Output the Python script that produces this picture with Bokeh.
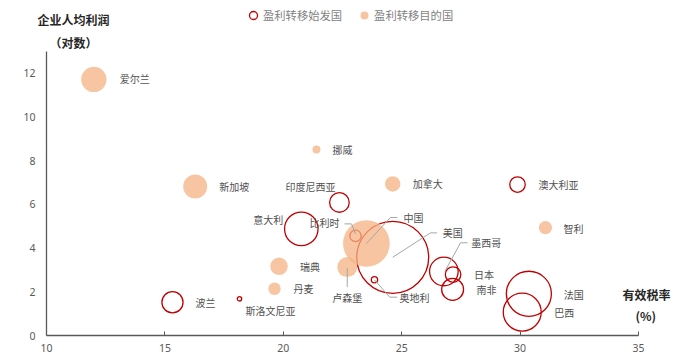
import math
from bokeh.plotting import figure
from bokeh.models import (ColumnDataSource, Range1d, Label, Legend, LegendItem,
                          FixedTicker, LinearAxis)
from bokeh.embed import file_html
from bokeh.resources import INLINE
from bokeh.core.properties import value

# ---------------- data ----------------
origin_names = ["印度尼西亚", "澳大利亚", "意大利", "比利时", "美国", "墨西哥", "日本",
                "南非", "奥地利", "法国", "巴西", "波兰", "斯洛文尼亚"]
origin_tax = [22.37, 29.89, 20.76, 23.05, 24.62, 26.78, 27.17, 27.15, 23.85, 30.37, 30.09, 15.32, 18.15]
origin_profit = [6.09, 6.91, 4.88, 4.56, 3.58, 2.93, 2.79, 2.11, 2.55, 1.91, 1.07, 1.52, 1.68]
origin_weight = [24, 15, 70, 8, 324, 51, 15, 30, 2.5, 127, 90, 28, 1.2]

dest_names = ["爱尔兰", "挪威", "新加坡", "加拿大", "智利", "瑞典", "丹麦", "卢森堡", "中国"]
dest_tax = [12.0, 21.40, 16.28, 24.62, 31.07, 19.82, 19.63, 22.70, 23.51]
dest_profit = [11.72, 8.51, 6.82, 6.94, 4.94, 3.17, 2.14, 3.13, 4.21]
dest_weight = [40, 4, 36, 15, 11, 19, 9.6, 25, 136]

x_ticks = [10, 15, 20, 25, 30, 35]
y_ticks = [0, 2, 4, 6, 8, 10, 12]

legend_labels = ["盈利转移始发国", "盈利转移目的国"]
y_title = ["企业人均利润", "（对数）"]
x_title = ["有效税率", "(%)"]

# ---------------- layout / style ----------------
W, H = 700, 363
X0, X1, Y0, Y1 = 10, 35, 0, 13
PLOT_L, PLOT_R, PLOT_T, PLOT_B = 46, 638, 51, 335      # axis box in page pixels
PX_X = (PLOT_R - PLOT_L) / (X1 - X0)
PX_Y = (PLOT_B - PLOT_T) / (Y1 - Y0)

RED = "#C00000"
ORANGE = "#F4B183"
GRAY = "#595959"
LABEL_C = "#505050"
LEGEND_C = "#7F7F7F"
FONT = "Noto Sans CJK SC"

label_pos = {
    "印度尼西亚": (-4, -16, "right"), "澳大利亚": (21, 0, "left"), "意大利": (-18, -9, "right"),
    "比利时": (-16, -13.5, "right"), "美国": (50, -24.5, "left"), "墨西哥": (27.5, -29, "left"),
    "日本": (21, 0, "left"), "南非": (24, 0, "left"), "奥地利": (25, 17.5, "left"),
    "法国": (35, 1, "left"), "巴西": (32, 0, "left"), "波兰": (23, 0, "left"),
    "斯洛文尼亚": (6, 12, "left"),
    "爱尔兰": (26, -1, "left"), "挪威": (16, 0, "left"), "新加坡": (24, 0, "left"),
    "加拿大": (20, 0, "left"), "智利": (18, 1, "left"), "瑞典": (21, 0, "left"),
    "丹麦": (19, 0, "left"), "卢森堡": (0, 30, "center"), "中国": (37, -26, "left"),
}
leaders = {
    "比利时": [(0, -2), (-4, -12), (-11, -12)],
    "中国": [(0, 0), (24, -26), (31, -26)],
    "美国": [(0, 0), (37.7, -24.4), (44.4, -24.4)],
    "墨西哥": [(1, 0), (16.7, -28.7), (23.7, -28.7)],
    "奥地利": [(0, 0), (15.3, 17.4), (22.7, 17.4)],
    "卢森堡": [(0, 1), (0, 20)],
}

p = figure(width=W, height=H,
           x_range=Range1d(X0 - PLOT_L / PX_X, X1 + (W - PLOT_R) / PX_X),
           y_range=Range1d(Y0 - (H - PLOT_B) / PX_Y, Y1 + PLOT_T / PX_Y),
           x_axis_location=None, y_axis_location=None,
           output_backend="svg", toolbar_location=None,
           min_border=0)
p.grid.visible = False
p.outline_line_color = None
p.background_fill_color = "white"
p.border_fill_color = "white"

xaxis = LinearAxis(fixed_location=Y0, bounds=(X0, X1), ticker=FixedTicker(ticks=x_ticks))
yaxis = LinearAxis(fixed_location=X0, bounds=(Y0, Y1), ticker=FixedTicker(ticks=y_ticks))
for ax in (xaxis, yaxis):
    ax.axis_line_color = GRAY
    ax.axis_line_width = 1.3
    ax.major_tick_line_color = GRAY
    ax.minor_tick_line_color = None
    ax.major_label_text_color = GRAY
    ax.major_label_text_font = "Noto Sans"
    ax.major_label_text_font_size = "10.5px"
    ax.major_tick_out = 0
xaxis.major_tick_in = 4
xaxis.major_label_standoff = 8
yaxis.major_tick_in = 0
yaxis.major_label_standoff = 11
p.add_layout(xaxis, "below")
p.add_layout(yaxis, "left")

o_src = ColumnDataSource(dict(x=origin_tax, y=origin_profit,
                              size=[4 * math.sqrt(w) for w in origin_weight]))
d_src = ColumnDataSource(dict(x=dest_tax, y=dest_profit,
                              size=[4 * math.sqrt(w) for w in dest_weight]))

r_o = p.scatter("x", "y", size="size", source=o_src, marker="circle",
                fill_color=None, line_color=RED, line_width=1.3)
r_d = p.scatter("x", "y", size="size", source=d_src, marker="circle",
                fill_color=ORANGE, fill_alpha=0.75, line_color=None)

# leader lines
all_pts = {n: (x, y) for n, x, y in zip(origin_names, origin_tax, origin_profit)}
all_pts.update({n: (x, y) for n, x, y in zip(dest_names, dest_tax, dest_profit)})
xs, ys = [], []
for name, pts in leaders.items():
    cx, cy = all_pts[name]
    xs.append([cx + dx / PX_X for dx, dy in pts])
    ys.append([cy - dy / PX_Y for dx, dy in pts])
p.multi_line(xs, ys, line_color="#A6A6A6", line_width=1)

# labels
names = origin_names + dest_names
lab = dict(x=[], y=[], text=[], xo=[], yo=[], align=[])
for n in names:
    cx, cy = all_pts[n]
    dx, dy, al = label_pos[n]
    lab["x"].append(cx); lab["y"].append(cy); lab["text"].append(n)
    lab["xo"].append(dx); lab["yo"].append(dy); lab["align"].append(al)
p.text("x", "y", text="text", x_offset="xo", y_offset="yo", text_align="align",
       source=ColumnDataSource(lab), text_baseline="middle",
       text_font=value(FONT), text_font_size="10px", text_color=LABEL_C)

# legend
legend = Legend(items=[LegendItem(label=legend_labels[0], renderers=[r_o]),
                       LegendItem(label=legend_labels[1], renderers=[r_d])],
                orientation="horizontal", location=(243, H - 25),
                glyph_width=20, glyph_height=20, label_standoff=-3, spacing=12,
                padding=0, margin=0, border_line_color=None, background_fill_alpha=0,
                label_text_font=FONT, label_text_font_size="11.3px", label_text_color=LEGEND_C,
                label_height=20)
p.add_layout(legend)

# axis titles (screen units, from bottom-left of the figure)
def title(txt, x, y):
    p.add_layout(Label(x=x, y=y, x_units="screen", y_units="screen", text=txt,
                       text_font=FONT, text_font_size="12px", text_font_style="bold",
                       text_color="#262626", text_baseline="middle"))

title(y_title[0], 37, H - 19)
title(y_title[1], 49, H - 42)
title(x_title[0], 622, H - 294)
title(x_title[1], 635, H - 315)

open("out.html", "w").write(file_html(p, INLINE))
